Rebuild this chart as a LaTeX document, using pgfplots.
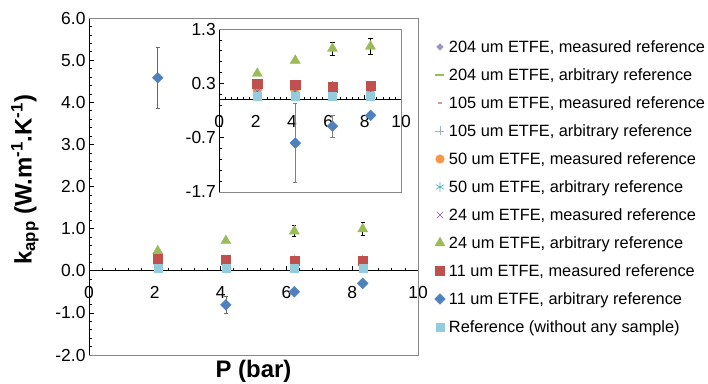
\documentclass[border=0pt]{standalone}
\usepackage{fontspec}
\setmainfont{Liberation Sans}
\usepackage{pgfplots}
\pgfplotsset{compat=1.18}
\usepackage{pgfplotstable}
\definecolor{cA}{HTML}{9F92C6}
\definecolor{cB}{HTML}{9BBB59}
\definecolor{cC}{HTML}{D99694}
\definecolor{cD}{HTML}{95B3D7}
\definecolor{cE}{HTML}{F79646}
\definecolor{cF}{HTML}{4BACC6}
\definecolor{cG}{HTML}{8064A2}
\definecolor{cH}{HTML}{9BBB59}
\definecolor{cI}{HTML}{C0504D}
\definecolor{cJ}{HTML}{4F81BD}
\definecolor{cK}{HTML}{93CDDD}
\definecolor{frame}{HTML}{868686}

% main chart data
\pgfplotstableread{
x y
2.09 0.22
4.16 0.22
6.24 0.20
8.32 0.20
}\tA
\pgfplotstableread{
x y
2.09 0.20
4.16 0.20
6.24 0.20
8.32 0.20
}\tB
\pgfplotstableread{
x y
2.09 0.22
4.16 0.22
6.24 0.21
8.32 0.21
}\tC
\pgfplotstableread{
x y
2.09 0.25
4.16 0.25
6.24 0.26
8.32 0.26
}\tD
\pgfplotstableread{
x y
2.09 0.17
4.16 0.17
6.24 0.18
8.32 0.18
}\tE
\pgfplotstableread{
x y
2.09 0.24
4.16 0.24
6.24 0.24
8.32 0.24
}\tF
\pgfplotstableread{
x y
2.09 0.15
4.16 0.15
6.24 0.15
8.32 0.15
}\tG
\pgfplotstableread{
x y e
2.09 0.47 0.0
4.16 0.71 0.0
6.24 0.94 0.13
8.32 0.99 0.15
}\tH
\pgfplotstableread{
x y
2.09 0.28
4.16 0.27
6.24 0.23
8.32 0.23
}\tI
\pgfplotstableread{
x y e
2.09 4.58 0.72
4.16 -0.81 0.20
6.24 -0.50 0.0
8.32 -0.30 0.0
}\tJ
\pgfplotstableread{
x y
2.09 0.07
4.16 0.07
6.24 0.07
8.32 0.07
}\tK

% inset data
\pgfplotstableread{
x y e
2.09 0.48 0.0
4.18 0.72 0.0
6.23 0.94 0.12
8.32 0.98 0.14
}\tHi
\pgfplotstableread{
x y
2.09 0.30
4.18 0.28
6.23 0.23
8.32 0.26
}\tIi
\pgfplotstableread{
x y e
2.09 4.58 0.0
4.18 -0.80 0.73
6.23 -0.49 0.20
8.33 -0.29 0.0
}\tJi

\pgfplotsset{
 kstyle/.style={
  scale only axis,
  xmin=0, xmax=10,
  axis x line*=middle, axis y line*=left,
  axis line style={black, line width=0.75bp},
  tick align=inside,
  major tick length=5bp, minor tick length=3bp,
  tick style={black, line width=0.6bp},
  hide obscured x ticks=false, hide obscured y ticks=false,
  /pgf/number format/assume math mode=true,
  ticklabel style={font=\fontsize{17.5}{20}\selectfont},
  x tick label style={yshift=-12bp},
  y tick label style={/pgf/number format/.cd, fixed, fixed zerofill, precision=1, /tikz/.cd},
  xtick={0,2,...,10},
  clip=true,
 },
 mk/.style={only marks, color=#1},
 eb/.style={error bars/.cd, y dir=both, y explicit,
   error bar style={#1, line width=0.6bp},
   error mark options={rotate=90, #1, mark size=2.2bp, line width=0.6bp}},
}

\begin{document}
\begin{tikzpicture}
\useasboundingbox (0,0) rectangle (708bp,384bp);
\begin{axis}[kstyle,
  name=main,
  at={(89bp,29bp)}, anchor=south west,
  width=329bp, height=337bp,
  ymin=-2, ymax=6, ytick={-2,-1,...,6},
  minor x tick num=4, minor y tick num=4,
  xlabel={\textbf{P (bar)}},
  xlabel style={font=\fontsize{24}{28}\selectfont, at={(axis description cs:0.5,0)}, anchor=north, inner sep=0pt, yshift=-5bp},
  ylabel={\textbf{k\textsubscript{app} (W.m\textsuperscript{-1}.K\textsuperscript{-1})}},
  ylabel style={font=\fontsize{24}{28}\selectfont, at={(axis description cs:-0.195,0.52)}, anchor=center},
  legend style={at={(axis description cs:1.0486,0.9318)}, anchor=north west, draw=none, fill=none,
    inner sep=0pt, outer sep=0pt, row sep=16bp, column sep=3bp,
    font=\fontsize{16.4}{19}\selectfont,
    nodes={inner sep=0pt, text height=11.8bp, text depth=0bp}},
  legend cell align=left,
  legend image code/.code={\path[draw=none,fill=none] (-6bp,-6bp) rectangle (6bp,6bp);
     \draw[mark repeat=2,mark phase=2,#1] plot coordinates {(-5bp,0bp) (0bp,0bp) (5bp,0bp)};},
]
\addplot[mk=cA, mark=square*, mark size=2.3bp, mark options={rotate=45}] table[x=x,y=y]{\tA};
\addlegendentry{204 um ETFE, measured reference}
\addplot[mk=cB, mark=-, mark size=4.5bp, mark options={line width=1.6bp}] table[x=x,y=y]{\tB};
\addlegendentry{204 um ETFE, arbitrary reference}
\addplot[mk=cC, mark=-, mark size=2.2bp, mark options={line width=1.6bp}] table[x=x,y=y]{\tC};
\addlegendentry{105 um ETFE, measured reference}
\addplot[mk=cD, mark=+, mark size=4.5bp, mark options={line width=0.6bp}] table[x=x,y=y]{\tD};
\addlegendentry{105 um ETFE, arbitrary reference}
\addplot[mk=cE, mark=*, mark size=4.3bp] table[x=x,y=y]{\tE};
\addlegendentry{50 um ETFE, measured reference}
\addplot[mk=cF, mark=asterisk, mark size=4.8bp, mark options={line width=0.6bp}] table[x=x,y=y]{\tF};
\addlegendentry{50 um ETFE, arbitrary reference}
\addplot[mk=cG, mark=x, mark size=4.5bp, mark options={line width=0.6bp}] table[x=x,y=y]{\tG};
\addlegendentry{24 um ETFE, measured reference}
\addplot[mk=cH, mark=triangle*, mark size=5.8bp, eb=black] table[x=x,y=y,y error=e]{\tH};
\addlegendentry{24 um ETFE, arbitrary reference}
\addplot[mk=cI, mark=square*, mark size=4.6bp] table[x=x,y=y]{\tI};
\addlegendentry{11 um ETFE, measured reference}
\addplot[mk=cJ, mark=square*, mark size=3.8bp, mark options={rotate=45}, eb=black!60] table[x=x,y=y,y error=e]{\tJ};
\addlegendentry{11 um ETFE, arbitrary reference}
\addplot[mk=cK, mark=square*, mark size=4.0bp] table[x=x,y=y]{\tK};
\addlegendentry{Reference (without any sample)}
\end{axis}
\draw[frame, line width=0.75bp] (main.south west) -- (main.south east) -- (main.north east) -- (main.north west);

\begin{axis}[kstyle,
  name=inset,
  at={(219.3bp,192bp)}, anchor=south west,
  width=181.7bp, height=163bp,
  axis background/.style={fill=white},
  ymin=-1.7, ymax=1.3, ytick={-1.7,-0.7,0.3,1.3},
  minor x tick num=5, minor y tick num=4,
]
\addplot[mk=cA, mark=square*, mark size=2.3bp, mark options={rotate=45}] table[x=x,y=y]{\tA};
\addplot[mk=cB, mark=-, mark size=4.5bp, mark options={line width=1.6bp}] table[x=x,y=y]{\tB};
\addplot[mk=cC, mark=-, mark size=2.2bp, mark options={line width=1.6bp}] table[x=x,y=y]{\tC};
\addplot[mk=cD, mark=+, mark size=4.5bp, mark options={line width=0.6bp}] table[x=x,y=y]{\tD};
\addplot[mk=cE, mark=*, mark size=4.3bp] table[x=x,y=y]{\tE};
\addplot[mk=cF, mark=asterisk, mark size=4.8bp, mark options={line width=0.6bp}] table[x=x,y=y]{\tF};
\addplot[mk=cG, mark=x, mark size=4.5bp, mark options={line width=0.6bp}] table[x=x,y=y]{\tG};
\addplot[mk=cH, mark=triangle*, mark size=5.8bp, eb=black] table[x=x,y=y,y error=e]{\tHi};
\addplot[mk=cI, mark=square*, mark size=4.6bp] table[x=x,y=y]{\tIi};
\addplot[mk=cJ, mark=square*, mark size=3.8bp, mark options={rotate=45}, eb=black!50] table[x=x,y=y,y error=e]{\tJi};
\addplot[mk=cK, mark=square*, mark size=4.0bp] table[x=x,y=y]{\tK};
\end{axis}
\draw[frame, line width=0.75bp] (inset.south west) -- (inset.south east) -- (inset.north east) -- (inset.north west);
\end{tikzpicture}
\end{document}
